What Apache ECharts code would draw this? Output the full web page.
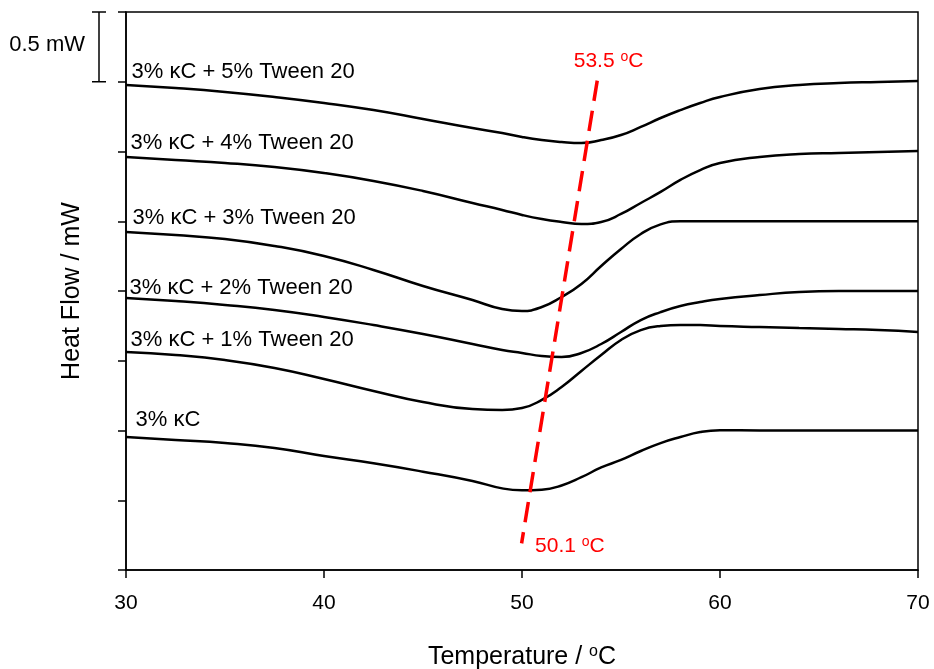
<!DOCTYPE html>
<html><head><meta charset="utf-8">
<script src="https://cdn.jsdelivr.net/npm/echarts@6/dist/echarts.min.js"></script>
<style>html,body{margin:0;padding:0;background:#fff}#c{width:934px;height:669px}</style>
</head><body><div id="c"></div>
<script>
// ---- data (temperature in °C, heat flow in mW, curves offset for display) ----
const temps = [30, 32.5, 35, 37.5, 40, 42.5, 45, 47.5, 49, 50, 51, 52, 53, 54, 55, 56, 57, 58, 59, 60, 62, 64, 66, 68, 70];
const kc_tw5 = [3.477,3.455,3.427,3.391,3.348,3.297,3.233,3.168,3.133,3.104,3.082,3.068,3.061,3.082,3.118,3.176,3.240,3.297,3.348,3.391,3.448,3.477,3.491,3.498,3.505];
const kc_tw4 = [2.961,2.939,2.918,2.889,2.846,2.789,2.717,2.631,2.581,2.545,2.516,2.495,2.480,2.495,2.552,2.631,2.710,2.796,2.867,2.918,2.961,2.982,2.989,2.996,3.004];
const kc_tw3 = [2.423,2.401,2.373,2.323,2.251,2.151,2.036,1.935,1.871,1.857,1.885,1.957,2.050,2.179,2.301,2.409,2.478,2.500,2.500,2.500,2.500,2.500,2.500,2.500,2.500];
const kc_tw2 = [1.950,1.928,1.900,1.864,1.814,1.756,1.692,1.620,1.577,1.556,1.534,1.527,1.556,1.620,1.706,1.792,1.849,1.892,1.921,1.943,1.971,1.993,2.000,2.000,2.000];
const kc_tw1 = [1.563,1.541,1.505,1.448,1.369,1.283,1.204,1.154,1.147,1.161,1.219,1.312,1.427,1.541,1.649,1.720,1.749,1.756,1.756,1.749,1.742,1.735,1.728,1.720,1.706];
const kc_only = [0.953,0.932,0.910,0.875,0.817,0.765,0.705,0.638,0.585,0.571,0.576,0.606,0.665,0.735,0.789,0.853,0.910,0.953,0.989,1.002,1.000,1.000,1.000,1.000,1.000];
const curveNames = ['3% κC + 5% Tween 20','3% κC + 4% Tween 20','3% κC + 3% Tween 20','3% κC + 2% Tween 20','3% κC + 1% Tween 20','3% κC'];
const onsetLine = [[53.80, 3.508], [49.98, 0.191]];
const onsetLabels = ['53.5', '50.1'];
const scaleBar = [[30, 4, 0.5]]; // top x, top y, size in mW

// ---- styles ----
const FONT = '"Liberation Sans", Arial, sans-serif';
const curves = [kc_tw5, kc_tw4, kc_tw3, kc_tw2, kc_tw1, kc_only];
const labelOffsets = [[5,-13],[4,-14],[6,-14],[3,-10],[4,-12],[9,-17]];
const onsetOffsets = [[-24,-19],[13,3]];

const series = curves.map((vals, i) => ({
  type:'line', name: curveNames[i],
  data: temps.map((t, j) => [t, vals[j]]),
  symbol:'none', smooth:0.5,
  lineStyle:{color:'#000', width:2.5},
  markPoint:{
    symbol:'circle', symbolSize:1, itemStyle:{color:'rgba(0,0,0,0)'}, silent:true,
    data:[{coord:[temps[0], vals[0]]}],
    label:{show:true, position:'right', distance:0, offset:labelOffsets[i], formatter:curveNames[i],
      color:'#000', fontSize:22, fontFamily:FONT}
  }
}));

series.push({
  type:'line', name:'onset', data:onsetLine, symbol:'none',
  lineStyle:{color:'#ff0000', width:3.5, type:[20.5,10]},
  markPoint:{
    symbol:'circle', symbolSize:1, itemStyle:{color:'rgba(0,0,0,0)'}, silent:true,
    data: onsetLine.map((p, i) => ({coord:p, label:{offset:onsetOffsets[i], formatter: onsetLabels[i] + ' {sup|o}C'}})),
    label:{show:true, position:'right', distance:0, color:'#ff0000', fontSize:21, fontFamily:FONT,
      rich:{sup:{fontSize:14, verticalAlign:'top', color:'#ff0000', fontFamily:FONT, padding:[0,0,9,0]}}}
  }
});

series.push({
  type:'custom', data:scaleBar, clip:false, silent:true,
  renderItem:(params, api) => {
    const top = api.coord([api.value(0), api.value(1)]);
    const bot = api.coord([api.value(0), api.value(1) - api.value(2)]);
    const x = top[0] - 27;
    const ls = {stroke:'#000', lineWidth:1.5};
    return {type:'group', children:[
      {type:'line', shape:{x1:x, y1:top[1], x2:x, y2:bot[1]}, style:ls},
      {type:'line', shape:{x1:x-7, y1:top[1], x2:x+7, y2:top[1]}, style:ls},
      {type:'line', shape:{x1:x-7, y1:bot[1], x2:x+7, y2:bot[1]}, style:ls},
      {type:'text', x:x-14, y:(top[1]+bot[1])/2 - 2, style:{text: api.value(2) + ' mW', fill:'#000',
        fontSize:22, fontFamily:FONT, align:'right', verticalAlign:'middle', textAlign:'right', textVerticalAlign:'middle'}}
    ]};
  }
});

const chart = echarts.init(document.getElementById('c'), null, {renderer:'canvas'});
chart.setOption({
  backgroundColor:'#fff',
  animation:false,
  grid:{left:126, right:16, top:12, bottom:99, show:true, borderColor:'#000', borderWidth:1.5,
    containLabel:false, outerBoundsMode:'none'},
  xAxis:{
    type:'value', min:30, max:70, interval:10,
    name:'Temperature / {sup|o}C', nameLocation:'middle', nameGap:74,
    nameTextStyle:{fontSize:25, color:'#000', fontFamily:FONT,
      rich:{sup:{fontSize:16, verticalAlign:'top', color:'#000', fontFamily:FONT, padding:[0,0,11,0]}}},
    axisLine:{show:true, lineStyle:{color:'#000', width:1.5}},
    axisTick:{show:true, inside:false, length:8, lineStyle:{color:'#000', width:1.5}},
    axisLabel:{fontSize:21, color:'#000', fontFamily:FONT, margin:23},
    splitLine:{show:false}
  },
  yAxis:{
    type:'value', min:0, max:4, interval:0.5,
    name:'Heat Flow / mW', nameLocation:'middle', nameGap:41,
    nameTextStyle:{fontSize:25, color:'#000', fontFamily:FONT},
    axisLine:{show:true, lineStyle:{color:'#000', width:1.5}},
    axisTick:{show:true, inside:false, length:8, lineStyle:{color:'#000', width:1.5}},
    axisLabel:{show:false},
    splitLine:{show:false}
  },
  series
});
</script>
</body></html>
